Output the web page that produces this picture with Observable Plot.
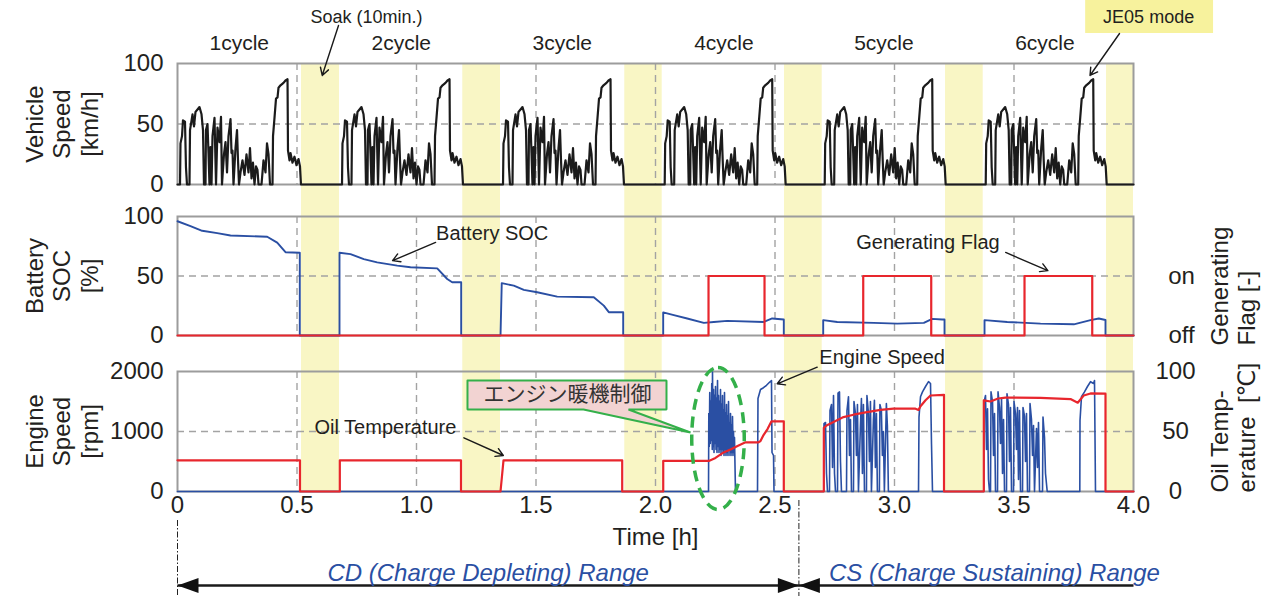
<!DOCTYPE html>
<html><head><meta charset="utf-8">
<script src="https://cdn.jsdelivr.net/npm/d3@7"></script>
<script src="https://cdn.jsdelivr.net/npm/@observablehq/plot@0.6"></script>
<style>
html,body{margin:0;padding:0;background:#fff;}
#chart{position:relative;width:1271px;height:596px;overflow:hidden;}
#chart svg{position:absolute;left:0;}
</style></head><body><div id="chart"></div>
<script>
// ---------------- DATA (time in minutes from test start; axis shows hours) ----------------
const xTicksHours = [0, 0.5, 1, 1.5, 2, 2.5, 3, 3.5, 4];
const gridHours = [0.5, 1, 1.5, 2, 2.5, 3, 3.5];
const speedTicks = [0, 50, 100];
const socTicks = [0, 50, 100];
const engineTicks = [0, 1000, 2000];
const oilTicks = [0, 50, 100];
const flagTickLabels = ["off", "on"];

const cycleNames = ["1cycle", "2cycle", "3cycle", "4cycle", "5cycle", "6cycle"];
const cycleStart = [0, 40.67, 81.09, 121.68, 161.85, 202.27];
const soakStart = [31.13, 71.62, 112.29, 152.39, 192.81, 233.23];
const soakEnd = [40.67, 81.09, 121.68, 161.85, 202.27, 240];

// JE05 mode vehicle speed profile [minute within cycle, km/h] (same for every cycle)
const je05 = [[0,0],[0.63,0],[0.75,34],[1.13,40],[1.38,53],[1.88,52],[2.13,14],[2.38,0],[3.01,0],[3.14,45],
 [3.77,58],[4.14,48],[4.52,60],[5.02,62],[5.52,64],[6.03,58],[6.40,45],[6.65,0],[7.03,0],[7.15,45],[7.53,50],
 [7.78,26],[8.03,0],[8.28,31],[8.54,0],[8.79,40],[9.29,55],[9.67,0],[10.04,47],[10.54,35],[10.92,56],[11.17,0],
 [11.67,25],[12.05,35],[12.43,10],[12.80,40],[13.31,54],[13.56,26],[13.81,28],[14.06,0],[14.56,30],[14.94,45],
 [15.19,20],[15.44,0],[15.82,10],[16.32,20],[16.82,8],[17.32,25],[17.82,10],[18.20,30],[18.58,5],[18.95,18],
 [19.33,0],[19.71,15],[20.08,12],[20.34,0],[21.09,0],[21.59,20],[22.09,10],[22.47,34],[22.85,25],[23.22,0],
 [23.85,0],[23.98,40],[24.35,55],[24.73,71],[25.11,72],[25.36,80],[25.86,82],[26.61,84],[27.11,86],[27.62,87],
 [27.74,28],[28.12,20],[28.37,26],[28.87,18],[29.37,23],[29.87,16],[30.38,21],[30.75,15],[31.00,0]];

// Battery SOC [minute, %]
const soc = [[0,96],[3.26,92],[6.20,88],[9.97,86],[13.31,84],[22.52,83],[25.03,78],[27.11,70],[30.70,69.5],[30.70,0],
 [40.67,0],[40.67,69.5],[43.43,68.4],[46.77,64.2],[50.13,61.5],[55.16,58.7],[58.49,57.3],[65.20,56.4],[67.71,47.5],[68.96,44.7],[71.22,44.7],[71.22,0],
 [81.09,0],[81.40,44],[84.43,41.9],[86.94,38.3],[90.30,36.3],[95.32,32.7],[104.51,32.1],[107.02,25.1],[108.28,19.6],[111.89,19.6],[111.89,0],
 [121.93,0],[121.93,19.4],[124.60,17.1],[127.96,14.3],[132.13,10.6],[134.64,11.4],[138.00,12.3],[147.19,11.4],[149.30,14.3],[152.21,13.4],[152.21,0],
 [162.10,0],[162.10,12.9],[165.62,11.4],[174.81,10.6],[180.68,10],[187.36,10.6],[189.47,14],[191.98,13.4],[192.56,13.4],[192.56,0],
 [202.60,0],[202.60,12.9],[208.30,11.4],[216.66,10],[225.02,9.4],[229.21,12.9],[231.29,14.3],[232.97,13],[232.97,0],[240,0]];

// Generating flag [minute, 0=off / 1=on] (step)
const flagMin = [0, 133.31, 147.37, 172.15, 189.22, 212.64, 229.64, 240];
const flagOn  = [0, 1, 0, 1, 0, 1, 0, 0];

// Engine speed [minute, rpm]
const engineC4 = [[133.31,0],[133.38,1300],[133.50,750],[133.62,1650],[133.75,800],[133.87,1500],[134.00,850],[134.12,1800],
 [134.25,700],[134.31,1990],[134.44,750],[134.56,1700],[134.69,650],[134.81,1600],[134.94,800],[135.06,1750],[135.19,700],
 [135.32,1550],[135.44,650],[135.57,1850],[135.69,750],[135.82,1600],[135.94,650],[136.07,1500],[136.20,700],[136.32,1700],
 [136.45,600],[136.57,1450],[136.70,700],[136.82,1600],[136.95,650],[137.07,1350],[137.20,600],[137.32,1650],[137.45,700],
 [137.58,1300],[137.70,600],[137.83,1450],[137.96,650],[138.08,1250],[138.20,600],[138.33,1500],[138.46,700],[138.58,1150],
 [138.71,600],[138.83,1300],[138.96,650],[139.08,1100],[139.21,600],[139.33,1250],[139.46,650],[139.58,1000],[139.71,600],
 [139.83,900],[140.08,0],[145.61,0],[145.73,1550],[146.36,1700],[147.11,1730],[147.87,1770],[148.62,1820],
 [149.12,1850],[149.25,650],[149.63,600],[149.75,0]];
const engineC5 = [[162.25,0],[162.30,1130],[162.68,1150],[162.93,300],[163.18,0],[163.68,0],[163.81,1350],[164.19,1450],
 [164.44,400],[164.69,1600],[164.94,300],[165.19,0],[165.69,0],[165.82,1640],[166.19,1660],[166.44,500],[166.69,0],[167.95,0],
 [168.07,1350],[168.45,1580],[168.70,600],[168.95,1200],[169.20,0],[169.70,0],[169.83,1500],[170.20,1300],[170.45,600],
 [170.70,1450],[170.95,0],[171.45,1100],[171.70,1550],[171.95,300],[172.20,1450],[172.46,0],[172.96,0],[173.08,1600],
 [173.46,1300],[173.71,500],[173.96,1500],[174.21,0],[174.71,1200],[174.96,1520],[175.21,400],[175.46,1300],[175.71,0],
 [176.21,0],[176.34,1450],[176.71,1350],[176.96,600],[177.21,1000],[177.46,0],[177.96,1465],[178.21,1100],[178.47,0],
 [186.03,0],[186.15,1240],[186.53,1580],[187.03,1660],[187.79,1750],[188.54,1830],[189.04,1800],[189.29,790],[189.54,0]];
const engineC6 = [[202.42,0],[202.47,1490],[202.85,1600],[203.10,700],[203.35,1380],[203.60,200],[203.85,0],[204.10,0],
 [204.23,1660],[204.61,1500],[204.86,600],[205.11,1300],[205.36,0],[205.86,0],[205.99,1660],[206.36,1400],[206.61,800],
 [206.87,1550],[207.12,300],[207.37,1200],[207.62,0],[208.12,0],[208.24,1630],[208.62,1450],[208.87,500],[209.12,1400],
 [209.38,0],[209.88,0],[210.00,1500],[210.38,1300],[210.63,700],[210.88,1400],[211.13,200],[211.38,1350],[211.64,0],
 [212.14,0],[212.26,1400],[212.64,1250],[212.89,500],[213.14,1300],[213.39,0],[213.89,0],[214.02,1465],[214.39,1200],
 [214.65,600],[214.90,1100],[215.15,0],[215.65,1050],[215.90,400],[216.15,1150],[216.41,0],[217.16,0],[217.28,1240],
 [217.66,900],[217.91,300],[218.34,0],[226.52,0],[226.57,1180],[226.94,1580],[227.70,1660],[228.45,1750],[229.21,1830],
 [229.96,1800],[230.21,1850],[230.46,0]];

// Oil temperature [minute, degC]
const oil = [[0,26],[30.75,26],[30.75,0],[40.75,0],[40.75,26],[71.17,26],[71.17,0],[81.09,0],[81.84,26],[111.64,26],[111.64,0],
 [121.94,0],[121.94,25.5],[133.38,25.5],[135.06,28],[136.82,32],[138.83,35],[140.59,38],[142.60,41],[145.86,41],[146.36,42],
 [147.12,47],[148.12,52],[149.12,58.5],[152.21,58.5],[152.21,0],[162.25,0],[162.25,53],[162.93,55],[164.69,58],[167.20,62],
 [169.71,64],[172.72,66],[176.49,68],[179.75,69],[185.27,69],[186.03,68],[186.53,71],[187.79,76],[189.04,80],[192.43,80.5],
 [192.43,0],[202.42,0],[202.42,76],[204.10,75],[206.0,77.5],[207.87,78.3],[216.66,78],[224.19,77],[226.0,74],[227.5,80],
 [229.21,81.7],[232.97,81.5],[232.97,0],[240,0]];

// ---------------- BUILD ----------------
const FONT = '"Liberation Sans", Arial, "DejaVu Sans", sans-serif';
const YEL = "#f9f6c5", RED = "#e8262d", BLUE = "#2a4fa3", GRID = "#a3a3a3", FRAME = "#9c9c9c", GREEN = "#34b04a", INK = "#231f20", TXTBLUE = "#2a4fa3";
const styleStr = `overflow:visible;background:none;font-family:${FONT};font-size:24px;color:${INK};`;
const common = (h, mt, mb) => ({width: 1271, height: h, marginLeft: 177, marginRight: 138, marginTop: mt, marginBottom: mb, style: styleStr});
const H = m => m / 60;
const je05Dur = je05[je05.length - 1][0];

const speed = [];
cycleStart.forEach(s => je05.forEach(([m, v]) => speed.push({t: s + m, v})));
speed.push({t: 240, v: 0});
const socData = soc.map(([t, v]) => ({t, v}));
const flagData = flagMin.map((t, i) => ({t, on: flagOn[i]}));
const engine = [[0, 0], ...engineC4, ...engineC5, ...engineC6, [240, 0]].map(([t, v]) => ({t, v}));
const oilData = oil.map(([t, v]) => ({t, v}));
const bandData = soakStart.map((s, i) => ({s, e: soakEnd[i]}));

const gridStyle = {stroke: GRID, strokeWidth: 1.4, strokeDasharray: "7,5"};
const bands = (ymax, it, ib) => Plot.rect(bandData, {x1: d => H(d.s), x2: d => H(d.e), y1: () => 0, y2: () => ymax, fill: YEL, insetTop: it, insetBottom: ib});
const leftTitle = s => Plot.text([s], {text: d => d, frameAnchor: "left", dx: -116, rotate: -90, textAnchor: "middle", lineAnchor: "middle", fontSize: 24, lineHeight: 1.15});
const rightTitle = (s, dy) => Plot.text([s], {text: d => d, frameAnchor: "bottom-right", dx: 99, dy, rotate: -90, textAnchor: "start", lineAnchor: "middle", fontSize: 24, lineHeight: 1.15});
const note = (t, v, s, size) => Plot.text([s], {x: () => H(t), y: () => v, text: d => d, fontSize: size, textAnchor: "middle", lineAnchor: "middle"});
const pointer = (t1, v1, t2, v2) => Plot.arrow([0], {x1: () => H(t1), y1: () => v1, x2: () => H(t2), y2: () => v2, stroke: "#1a1a1a", strokeWidth: 1.4, headLength: 9});

const p1 = Plot.plot({
  ...common(200, 63, 16),
  x: {domain: [0, 4], axis: null},
  y: {domain: [0, 100], axis: null},
  marks: [
    bands(100, 0, -16),
    Plot.ruleX(gridHours, gridStyle),
    Plot.ruleY([50], gridStyle),
    Plot.frame({stroke: FRAME, strokeWidth: 2}),
    Plot.line(speed, {x: d => H(d.t), y: "v", stroke: "#1b1b1b", strokeWidth: 2.2}),
    Plot.axisY({ticks: speedTicks, tickSize: 0, tickPadding: 14, tickFormat: d => String(d), label: null}),
    leftTitle("Vehicle\nSpeed\n[km/h]"),
    Plot.text(cycleNames, {x: (d, i) => H(cycleStart[i] + je05Dur / 2), frameAnchor: "top", dy: -20, text: d => d, fontSize: 21, textAnchor: "middle", lineAnchor: "middle"}),
    Plot.rect([0], {x1: () => H(227.99), x2: () => H(260.1), y1: () => 152.1, y2: () => 124.8, fill: "#f7f29d"}),
    note(243.8, 138, "JE05 mode", 18),
    pointer(236.49, 124.8, 229.08, 90.1),
    note(47.45, 138, "Soak (10min.)", 18),
    pointer(40.42, 131.4, 36.33, 90.1)
  ]
});

const p2 = Plot.plot({
  ...common(153, 16, 18),
  x: {domain: [0, 4], axis: null},
  y: {domain: [0, 100], axis: null},
  marks: [
    bands(100, -16, -18),
    Plot.ruleX(gridHours, gridStyle),
    Plot.ruleY([50], gridStyle),
    Plot.frame({stroke: FRAME, strokeWidth: 2}),
    Plot.line(socData, {x: d => H(d.t), y: "v", stroke: BLUE, strokeWidth: 1.9}),
    Plot.line(flagData, {x: d => H(d.t), y: d => d.on * 50, curve: "step-after", stroke: RED, strokeWidth: 2.2}),
    Plot.axisY({ticks: socTicks, tickSize: 0, tickPadding: 14, tickFormat: d => String(d), label: null}),
    Plot.text(flagTickLabels, {y: (d, i) => i * 50, text: d => d, frameAnchor: "right", dx: 48, textAnchor: "middle", lineAnchor: "middle", fontSize: 24}),
    leftTitle("Battery\nSOC\n[%]"),
    rightTitle("Generating\nFlag [-]", 10),
    note(79.0, 85.5, "Battery SOC", 20),
    pointer(64.8, 78.2, 54.0, 62.9),
    note(188.4, 78.2, "Generating Flag", 20),
    pointer(207.9, 69.8, 218.5, 54.5)
  ]
});

const ellipse = {draw(ctx, size) {
  const r = Math.sqrt(size / Math.PI), rx = r * 0.37, ry = r, k = 0.5523;
  ctx.moveTo(0, -ry);
  ctx.bezierCurveTo(k * rx, -ry, rx, -k * ry, rx, 0);
  ctx.bezierCurveTo(rx, k * ry, k * rx, ry, 0, ry);
  ctx.bezierCurveTo(-k * rx, ry, -rx, k * ry, -rx, 0);
  ctx.bezierCurveTo(-rx, -k * ry, -k * rx, -ry, 0, -ry);
  ctx.closePath();
}};
const headRight = {draw(ctx) { ctx.moveTo(0, 0); ctx.lineTo(-21, -7.5); ctx.lineTo(-21, 7.5); ctx.closePath(); }};
const headLeft = {draw(ctx) { ctx.moveTo(0, 0); ctx.lineTo(21, -7.5); ctx.lineTo(21, 7.5); ctx.closePath(); }};
const callout = [[72.8,1850],[122.76,1850],[122.76,1367],[113.22,1367],[128.79,983],[101.93,1367],[72.8,1367],[72.8,1850]];
const CDCS = 2.6;

const p3 = Plot.plot({
  ...common(243, 18, 105),
  x: {domain: [0, 4], axis: null},
  y: {domain: [0, 2000], axis: null},
  marks: [
    bands(2000, -18, 0),
    Plot.ruleX(gridHours, gridStyle),
    Plot.ruleY([1000], gridStyle),
    Plot.frame({stroke: FRAME, strokeWidth: 2}),
    Plot.line(engine, {x: d => H(d.t), y: "v", stroke: BLUE, strokeWidth: 1.6}),
    Plot.line(oilData, {x: d => H(d.t), y: d => d.v * 20, stroke: RED, strokeWidth: 2.2}),
    Plot.axisY({ticks: engineTicks, tickSize: 0, tickPadding: 14, tickFormat: d => String(d), label: null}),
    Plot.axisX({ticks: xTicksHours, tickSize: 0, tickPadding: 4, tickFormat: d => d === 0 ? "0" : d.toFixed(1), label: null}),
    Plot.text(oilTicks, {y: d => d * 20, text: d => String(d), frameAnchor: "right", dx: 42, textAnchor: "middle", lineAnchor: "middle", fontSize: 24}),
    leftTitle("Engine\nSpeed\n[rpm]"),
    rightTitle("Oil Temp-\nerature  [℃]", 1),
    Plot.text(["Time [h]"], {x: () => 2, frameAnchor: "bottom", dy: 46, text: d => d, fontSize: 24, textAnchor: "middle", lineAnchor: "middle"}),
    note(176.9, 2233, "Engine Speed", 20),
    pointer(160.6, 2072, 150.55, 1795),
    note(52.2, 1072, "Oil Temperature", 20),
    pointer(71.9, 895, 81.8, 600),
    Plot.line(callout, {x: d => H(d[0]), y: d => d[1], fill: "#f2d3d2", stroke: GREEN, strokeWidth: 2, curve: "linear", strokeLinejoin: "miter"}),
    Plot.text(["エンジン暖機制御"], {x: () => H(97.9), y: () => 1617, text: d => d, fontSize: 21, fontFamily: '"Noto Sans CJK JP", sans-serif', fill: "#333", textAnchor: "middle", lineAnchor: "middle"}),
    Plot.dot([0], {x: () => H(135.69), y: () => 883, r: 71, symbol: ellipse, stroke: GREEN, strokeWidth: 3.5, strokeDasharray: "11,7", fill: "none"}),
    // CD / CS range
    Plot.ruleX([0], {stroke: "#222", strokeWidth: 1, strokeDasharray: "6,2,1.5,2", dy: 149}),
    Plot.ruleX([CDCS], {stroke: "#222", strokeWidth: 1, strokeDasharray: "6,2,1.5,2", dy: 129}),
    Plot.link([[0, CDCS], [CDCS, 4]], {x1: d => d[0], x2: d => d[1], y1: () => 0, y2: () => 0, dy: 94, stroke: "#1a1a1a", strokeWidth: 2.6}),
    Plot.dot([0, CDCS], {x: d => d, y: () => 0, dy: 94, symbol: headLeft, r: 5, fill: "#111", stroke: "none"}),
    Plot.dot([CDCS], {x: d => d, y: () => 0, dy: 94, symbol: headRight, r: 5, fill: "#111", stroke: "none"}),
    Plot.text(["CD (Charge Depleting) Range"], {x: () => CDCS / 2, frameAnchor: "bottom", dy: 82, text: d => d, fontSize: 24, fontStyle: "italic", fill: TXTBLUE, textAnchor: "middle", lineAnchor: "middle"}),
    Plot.text(["CS (Charge Sustaining) Range"], {x: () => 3.418, frameAnchor: "bottom", dy: 82, text: d => d, fontSize: 24, fontStyle: "italic", fill: TXTBLUE, textAnchor: "middle", lineAnchor: "middle"})
  ]
});

const chart = document.getElementById("chart");
[[p1, 0], [p2, 200], [p3, 353]].forEach(([svg, top]) => { svg.style.top = top + "px"; chart.appendChild(svg); });
</script></body></html>
